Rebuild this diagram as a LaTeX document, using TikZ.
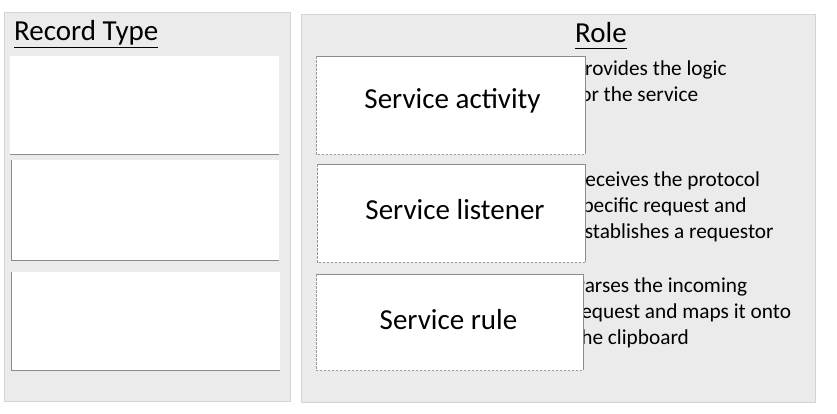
\documentclass[tikz,border=0pt]{standalone}
\usepackage{fontspec}
\setmainfont{Carlito}
\definecolor{panelfill}{HTML}{EBEBEB}
\definecolor{panelline}{HTML}{D4D4D4}
\definecolor{edgegray}{HTML}{8C8C8C}
\definecolor{dashgray}{HTML}{9A9A9A}
\begin{document}
\begin{tikzpicture}[x=1pt,y=-1pt,
  panel/.style={fill=panelfill,draw=panelline,line width=1pt},
  whitebox/.style={fill=white,draw=none,inner sep=0pt,anchor=north west},
  solidedge/.style={draw=edgegray,line width=0.9pt},
  dashededge/.style={draw=dashgray,line width=0.7pt,dash pattern=on 2.5pt off 1.5pt},
  heading/.style={font=\fontsize{29}{34}\selectfont,inner sep=0pt,anchor=base west},
  label/.style={font=\fontsize{29}{34}\selectfont,inner sep=0pt,anchor=base},
  roletext/.style={font=\fontsize{21.3}{26}\selectfont,inner sep=0pt,anchor=base west},
  uline/.style={line width=1.4pt}]
\useasboundingbox (0,0) rectangle (837,413);
\fill[white] (0,0) rectangle (837,413);
% panels
\node[panel,inner sep=0pt,anchor=north west,minimum width=286pt,minimum height=389pt] (lp) at (4,12) {};
\node[panel,inner sep=0pt,anchor=north west,minimum width=514pt,minimum height=388pt] (rp) at (301,14) {};
% headings
\node[heading] (rt) at (14,40.5) {Record Type};
\draw[uline] (rt.base west) ++(0,7) coordinate (rtu1) -- (rt.base east |- rtu1);
\node[heading] (ro) at (575,42) {Role};
\draw[uline] (ro.base west) ++(0,6.5) coordinate (rou1) -- (ro.base east |- rou1);
% role descriptions (partly hidden behind boxes)
\node[roletext] (d1) at (574,75.7) {\vtop{\hbox{Provides the logic}\hbox{for the service}}};
\node[roletext] (d2) at (574,186.7) {\vtop{\hbox{Receives the protocol}\hbox{specific request and}\hbox{establishes a requestor}}};
\node[roletext] (d3) at (574,292.3) {\vtop{\hbox{Parses the incoming}\hbox{request and maps it onto}\hbox{the clipboard}}};
% left record type boxes
\node[whitebox,minimum width=269pt,minimum height=98pt] (b1) at (10,56) {};
\draw[solidedge] (b1.south west) -- (b1.south east);
\node[whitebox,minimum width=268pt,minimum height=100pt] (b2) at (11,160) {};
\draw[solidedge] (b2.north west) -- (b2.south west) -- (b2.south east);
\node[whitebox,minimum width=269pt,minimum height=98pt] (b3) at (11,272) {};
\draw[solidedge] (b3.north west) -- (b3.south west) -- (b3.south east);
% right service boxes
\node[whitebox,minimum width=269pt,minimum height=98pt] (s1) at (316,56) {};
\draw[solidedge] (s1.north west) -- (s1.north east) -- (s1.south east);
\draw[dashededge] (s1.north west) -- (s1.south west) -- (s1.south east);
\node[whitebox,minimum width=268pt,minimum height=98pt] (s2) at (317,164) {};
\draw[solidedge] (s2.north west) -- (s2.north east) -- (s2.south east);
\draw[dashededge] (s2.north west) -- (s2.south west) -- (s2.south east);
\node[whitebox,minimum width=267pt,minimum height=96pt] (s3) at (316,274) {};
\draw[solidedge] (s3.north west) -- (s3.north east) -- (s3.south east);
\draw[dashededge] (s3.north west) -- (s3.south west) -- (s3.south east);
% labels
\node[label] (l1) at (452.5,108) {Service activity};
\node[label] (l2) at (455,219.5) {Service listener};
\node[label] (l3) at (448.5,329.3) {Service rule};
\end{tikzpicture}
\end{document}
